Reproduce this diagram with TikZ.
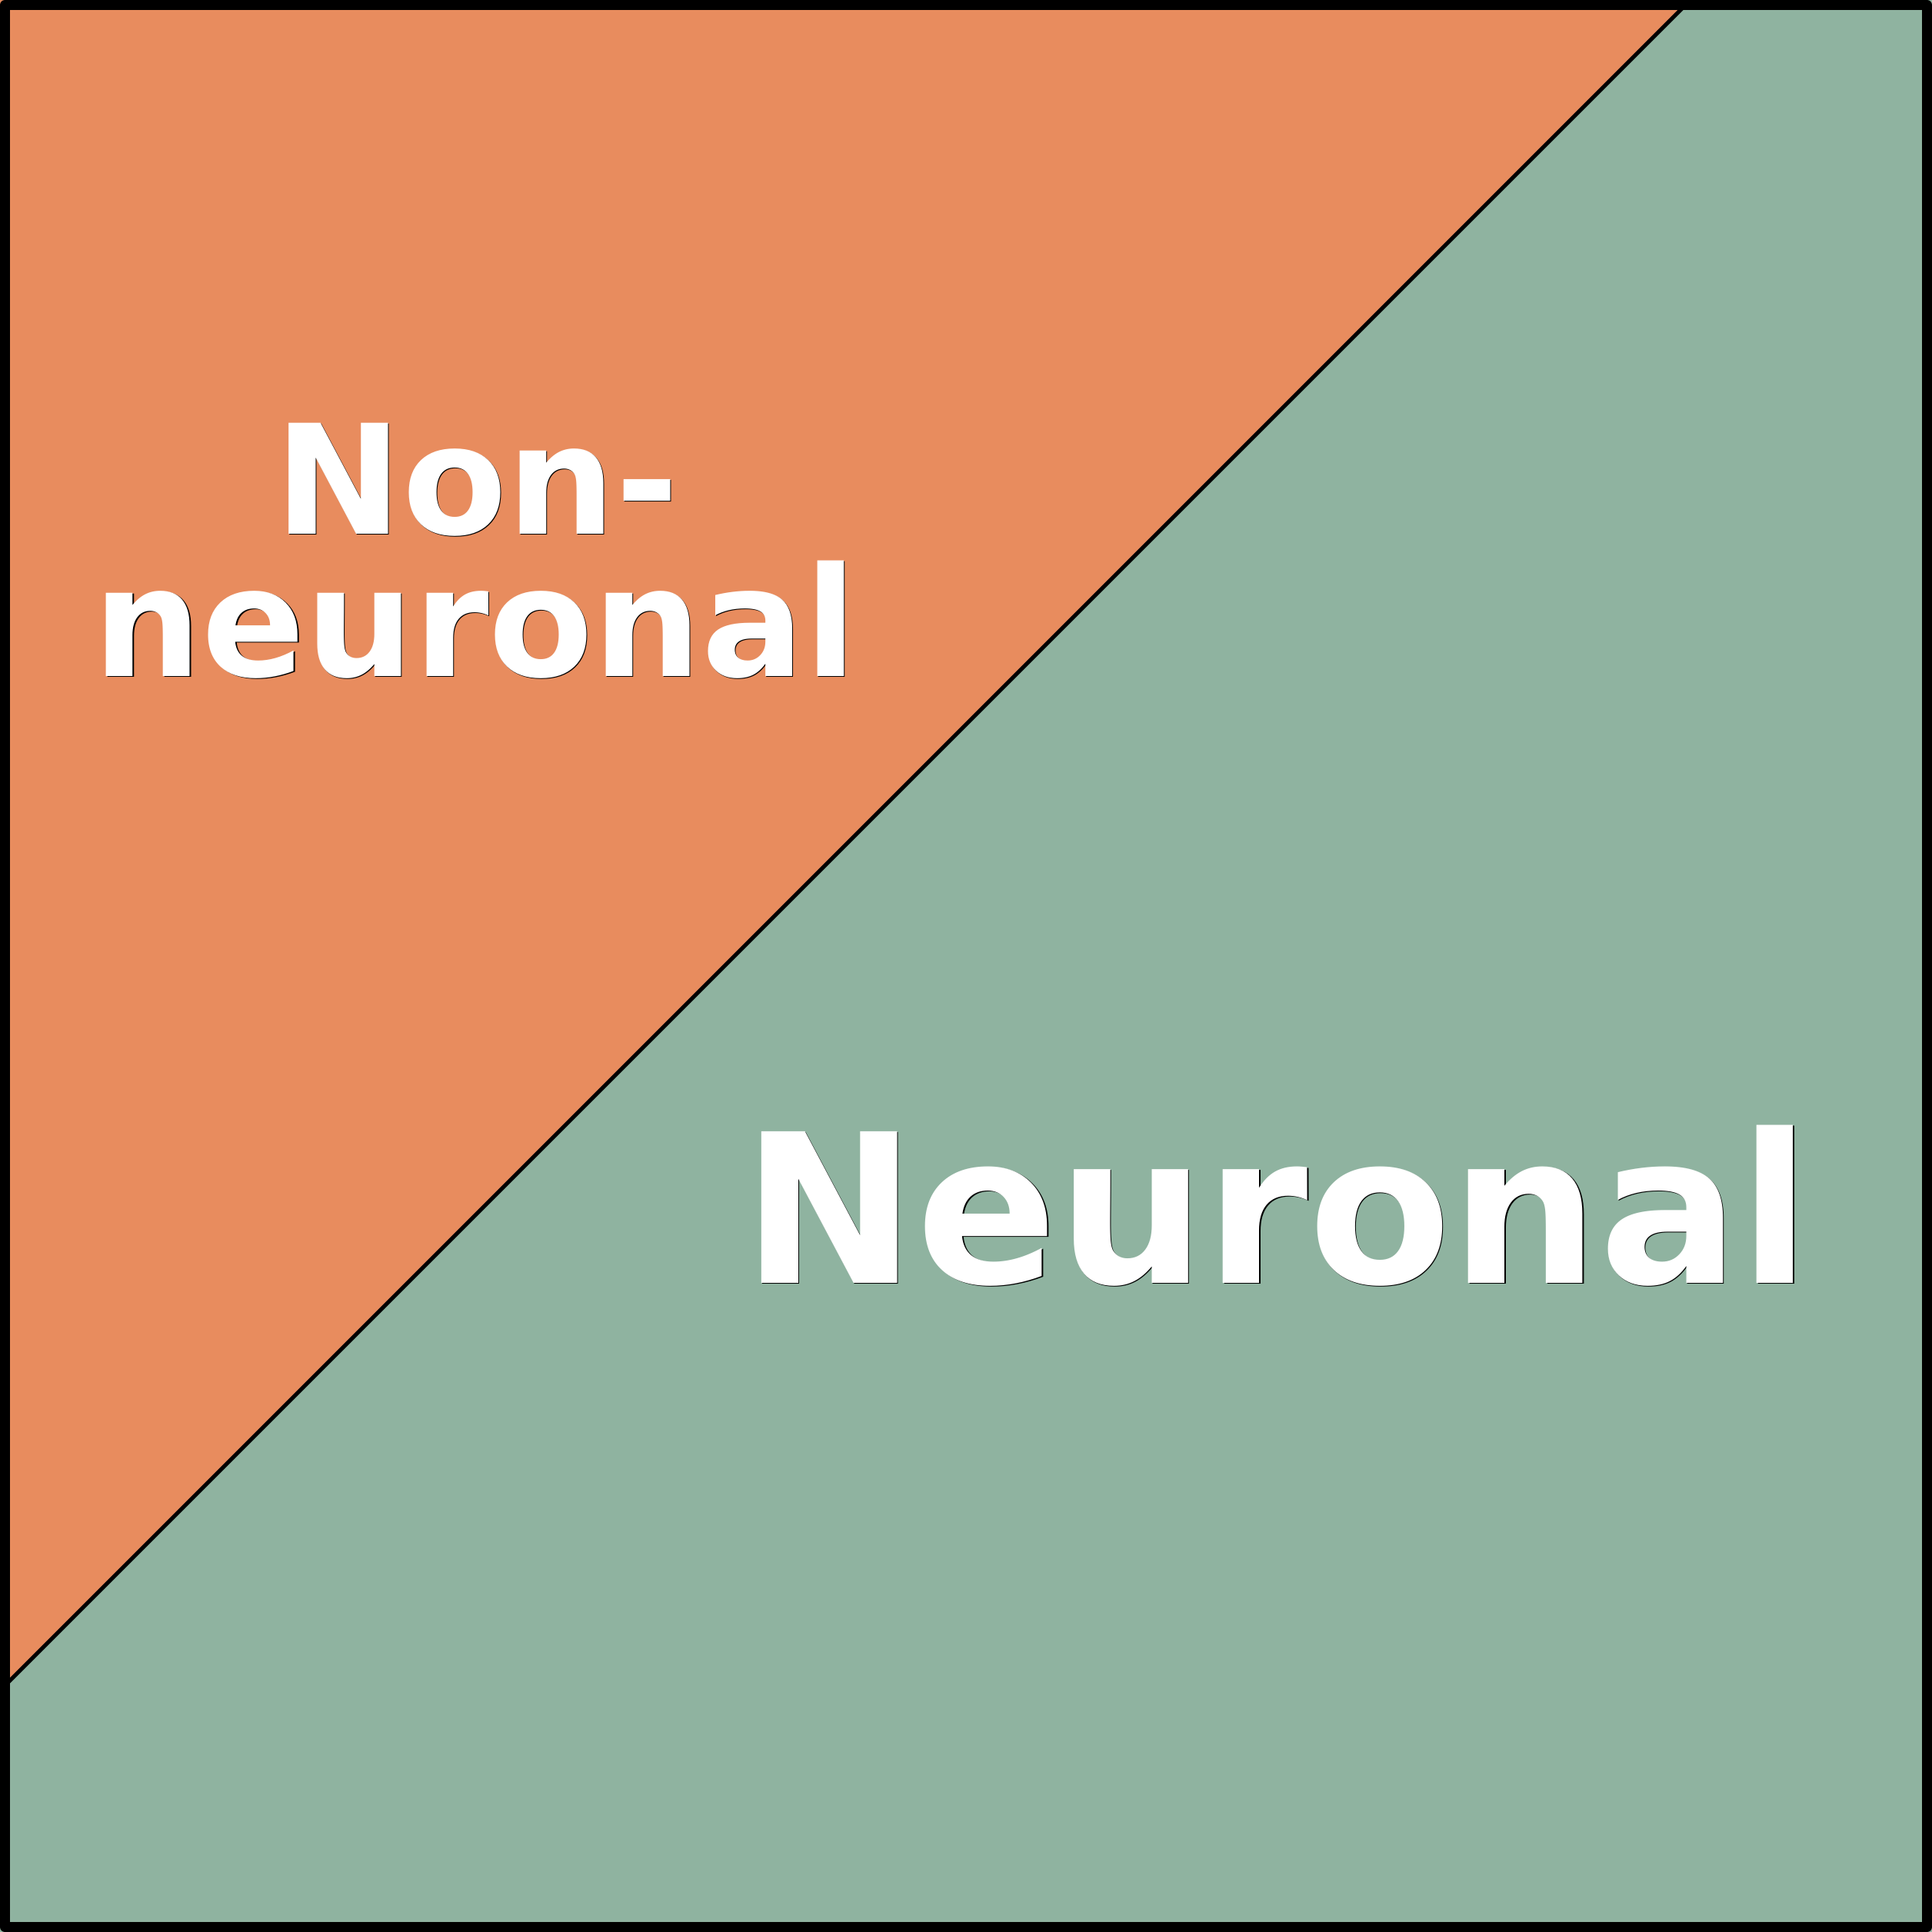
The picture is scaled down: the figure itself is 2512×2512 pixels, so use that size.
\documentclass[tikz,border=0pt]{standalone}
\usepackage{fontspec}
\setmainfont{DejaVu Sans}
\definecolor{orangefill}{RGB}{232,140,94}
\definecolor{greenfill}{RGB}{143,179,160}
\begin{document}
\begin{tikzpicture}[x=0.01cm,y=-0.01cm,
  lbl/.style={text=white,inner sep=0pt,anchor=base,font=\bfseries},
  shd/.style={text=black,inner sep=0pt,anchor=base,font=\bfseries},
  small/.style={font=\fontsize{56.3}{60}\selectfont\bfseries},
  big/.style={font=\fontsize{76.9}{80}\selectfont\bfseries}]
\useasboundingbox (0,0) rectangle (2512,2512);
% regions
\fill[greenfill] (0,0) rectangle (2512,2512);
\fill[orangefill] (0,0) -- (2198,0) -- (0,2198) -- cycle;
% diagonal divider
\coordinate (dtop) at (2198,0);
\coordinate (dleft) at (0,2198);
\draw[line width=0.05cm] (dtop) -- (dleft);
% frame
\draw[line width=0.13cm,line join=round] (6.5,6.5) rectangle (2505.5,2505.5);
% labels (shadow first, then white text)
\node[shd,small] (nonS) at (621.3,695.3) {Non-};
\node[lbl,small] (non) at (620,694) {Non-};
\node[shd,small] (neurS) at (619.3,880.3) {neuronal};
\node[lbl,small] (neur) at (618,879) {neuronal};
\node[shd,big] (NeurS) at (1661.3,1669.3) {Neuronal};
\node[lbl,big] (Neur) at (1660,1668) {Neuronal};
\end{tikzpicture}
\end{document}
